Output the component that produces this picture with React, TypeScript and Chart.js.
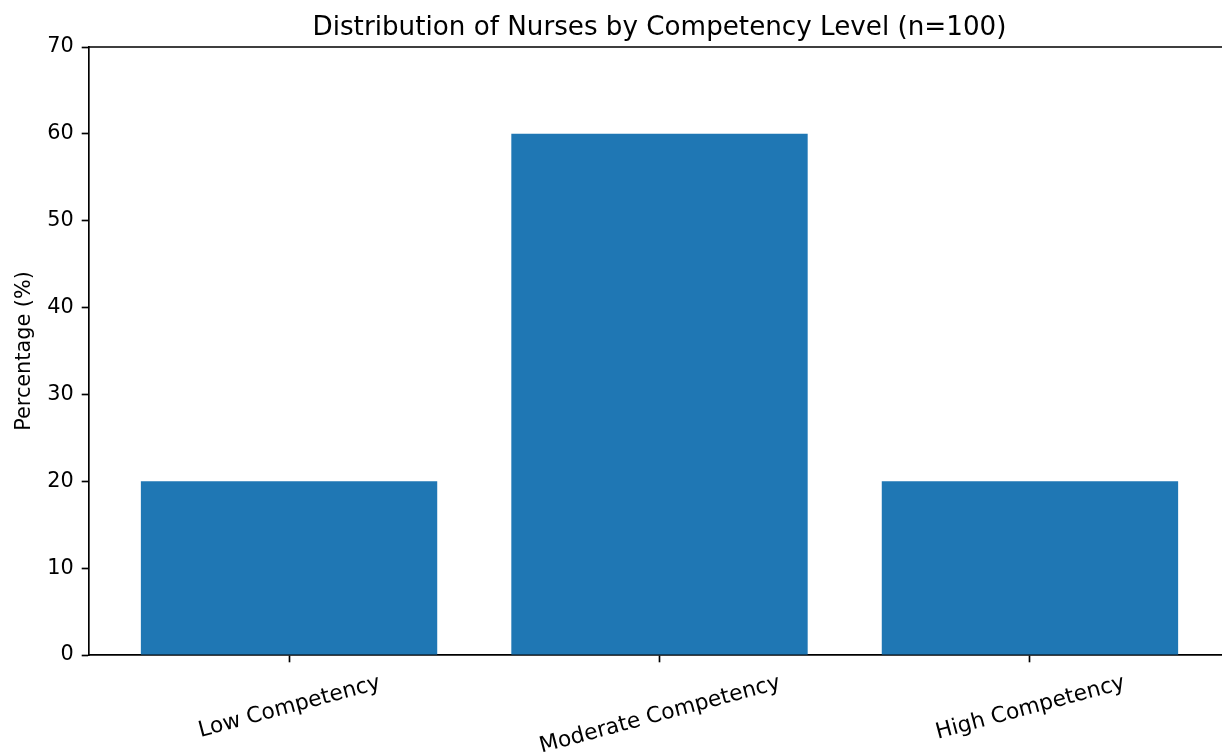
import React, { useEffect, useRef } from "react";
import { Chart, registerables } from "chart.js";

Chart.register(...registerables);

const categories = ["Low Competency", "Moderate Competency", "High Competency"];
const percentages = [20, 60, 20];
const yMin = 0;
const yMax = 70;
const yStep = 10;
const titleText = "Distribution of Nurses by Competency Level (n=100)";
const yAxisTitle = "Percentage (%)";

const FONT = "'DejaVu Sans', sans-serif";
const TICK_FS = 20.8;
const XLABEL_FS = 21.8;
const TITLE_FS = 26.2;
const LW = 1.67;
const TICK_LEN = 7.3;

const overlayPlugin = {
  id: "overlay",
  afterDraw(chart: any) {
    const { ctx, chartArea } = chart;
    const xs = chart.scales.x;
    ctx.save();
    // top and right spines
    ctx.strokeStyle = "#000";
    ctx.lineWidth = LW;
    ctx.beginPath();
    ctx.moveTo(chartArea.left, chartArea.top);
    ctx.lineTo(chartArea.right, chartArea.top);
    ctx.lineTo(chartArea.right, chartArea.bottom);
    ctx.stroke();
    // title
    ctx.fillStyle = "#000";
    ctx.font = `${TITLE_FS}px ${FONT}`;
    ctx.textAlign = "center";
    ctx.textBaseline = "alphabetic";
    ctx.fillText(titleText, (chartArea.left + chartArea.right) / 2, chartArea.top - 12.5);
    // rotated x tick labels, centered on ticks
    ctx.font = `${XLABEL_FS}px ${FONT}`;
    const ang = (15 * Math.PI) / 180;
    const H = XLABEL_FS * 1.164;
    categories.forEach((c, i) => {
      const px = xs.getPixelForValue(i);
      const W = ctx.measureText(c).width;
      const bh = W * Math.sin(ang) + H * Math.cos(ang);
      const top = chartArea.bottom + TICK_LEN + 6.5;
      ctx.save();
      ctx.translate(px, top + bh / 2);
      ctx.rotate(-ang);
      ctx.textAlign = "center";
      ctx.textBaseline = "alphabetic";
      ctx.fillText(c, 0, XLABEL_FS * 0.346);
      ctx.restore();
    });
    ctx.restore();
  },
};

export default function App() {
  const ref = useRef<HTMLCanvasElement>(null);
  useEffect(() => {
    document.body.style.margin = "0";
    Chart.defaults.font.family = FONT;
    Chart.defaults.color = "#000";
    const chart = new Chart(ref.current as HTMLCanvasElement, {
      type: "bar",
      data: {
        datasets: [
          {
            data: percentages.map((v, i) => ({ x: i, y: v })) as any,
            backgroundColor: "#1f77b4",
            borderWidth: 0,
            categoryPercentage: 1,
            barPercentage: 0.8,
          },
        ],
      },
      options: {
        responsive: false,
        devicePixelRatio: 1,
        animation: false,
        layout: { padding: { top: 47, left: 0, right: 2, bottom: 0 } },
        plugins: { legend: { display: false }, tooltip: { enabled: false }, title: { display: false } },
        scales: {
          x: {
            type: "linear",
            min: -0.54,
            max: 2.54,
            offset: false,
            afterBuildTicks: (scale: any) => {
              scale.ticks = categories.map((_, i) => ({ value: i }));
            },
            afterFit: (scale: any) => {
              scale.height = 99;
            },
            ticks: { display: false },
            grid: {
              offset: false,
              drawOnChartArea: false,
              drawTicks: true,
              tickLength: TICK_LEN,
              tickWidth: LW,
              tickColor: "#000",
              color: "#000",
            },
            border: { display: true, color: "#000", width: LW },
          },
          y: {
            type: "linear",
            min: yMin,
            max: yMax,
            afterFit: (scale: any) => {
              scale.width = 89;
            },
            ticks: { stepSize: yStep, padding: 8, font: { size: TICK_FS, family: FONT }, color: "#000" },
            title: {
              display: true,
              text: yAxisTitle,
              font: { size: TICK_FS, family: FONT },
              color: "#000",
              padding: { top: 12, bottom: 0 },
            },
            grid: {
              drawOnChartArea: false,
              drawTicks: true,
              tickLength: TICK_LEN,
              tickWidth: LW,
              tickColor: "#000",
              color: "#000",
            },
            border: { display: true, color: "#000", width: LW },
          },
        },
      } as any,
      plugins: [overlayPlugin],
    });
    return () => chart.destroy();
  }, []);
  return (
    <div style={{ position: "fixed", left: 0, top: 0, width: 1222, height: 754, overflow: "hidden", background: "#fff" }}>
      <canvas ref={ref} width={1232} height={754} style={{ display: "block" }} />
    </div>
  );
}
